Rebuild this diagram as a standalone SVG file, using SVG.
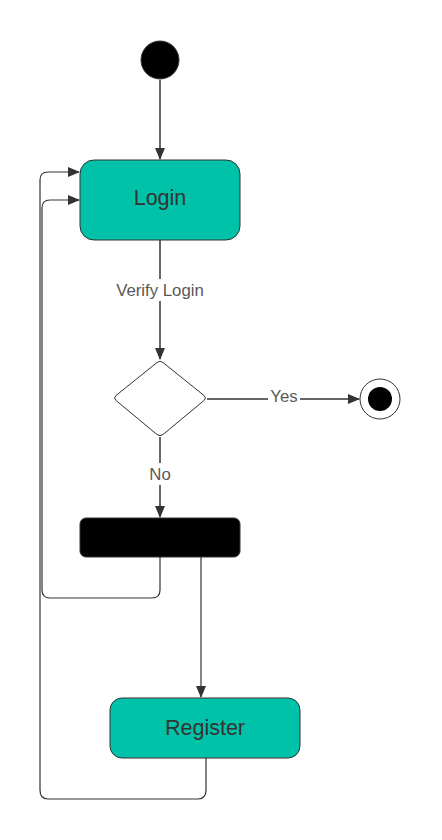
<svg xmlns="http://www.w3.org/2000/svg" width="442" height="840" viewBox="0 0 442 840">
<style>
.ln{fill:none;stroke:#333;stroke-width:1.5}
.lp{fill:none;stroke:#333;stroke-width:1.2}
.act{fill:#00C2A8;stroke:#333;stroke-width:1}
.t{font-family:"Liberation Sans",Arial,sans-serif;font-size:21.5px;fill:#333;text-anchor:middle}
.lbl{font-family:"Liberation Sans",Arial,sans-serif;font-size:16.8px;fill:#595959;text-anchor:middle}
</style>
<defs>
<marker id="ah" markerWidth="12" markerHeight="10" refX="11" refY="5" orient="auto" markerUnits="userSpaceOnUse">
<path d="M0,0 L12,5 L0,10 Z" fill="#333"/>
</marker>
</defs>
<rect width="442" height="840" fill="#fff"/>
<g id="connectors">
<path class="ln" d="M160,80 V159" marker-end="url(#ah)"/>
<path class="ln" d="M160,240 V359" marker-end="url(#ah)"/>
<rect x="110" y="279" width="100" height="22" fill="#fff"/>
<text class="lbl" x="160" y="296">Verify Login</text>
<path class="ln" d="M207,399 H359" marker-end="url(#ah)"/>
<rect x="268" y="387" width="32" height="22" fill="#fff"/>
<text class="lbl" x="284" y="402">Yes</text>
<path class="ln" d="M160,437 V517" marker-end="url(#ah)"/>
<rect x="147" y="463" width="26" height="22" fill="#fff"/>
<text class="lbl" x="160" y="480">No</text>
<path class="lp" d="M160,557 V590 Q160,598 152,598 H50 Q42,598 42,590 V208 Q42,200 50,200 H79" marker-end="url(#ah)"/>
<path class="lp" d="M201,557 V697" marker-end="url(#ah)"/>
<path class="lp" d="M206,758 V790 Q206,799 198,799 H48 Q40,799 40,790 V180 Q40,172 48,172 H79" marker-end="url(#ah)"/>
</g>
<g id="start"><circle cx="160" cy="60" r="19" fill="#000" stroke="#333" stroke-width="1"/></g>
<g id="login">
<rect class="act" x="80" y="160" width="160" height="80" rx="14"/>
<text class="t" x="160" y="205">Login</text>
</g>
<g id="decision">
<path d="M157,362.5 Q160,360 163,362.5 L204,395.5 Q207,398 204,400.5 L163,434.5 Q160,437 157,434.5 L116,400.5 Q113,398 116,395.5 Z" fill="#fff" stroke="#333" stroke-width="1"/>
</g>
<g id="end">
<circle cx="380" cy="399" r="20" fill="#fff" stroke="#333" stroke-width="1"/>
<circle cx="380" cy="399" r="12" fill="#000"/>
</g>
<g id="fork"><rect x="80" y="518" width="160" height="39" rx="6" fill="#000" stroke="#333" stroke-width="1"/></g>
<g id="register">
<rect class="act" x="110" y="698" width="190" height="60" rx="12"/>
<text class="t" x="205" y="735">Register</text>
</g>
</svg>
